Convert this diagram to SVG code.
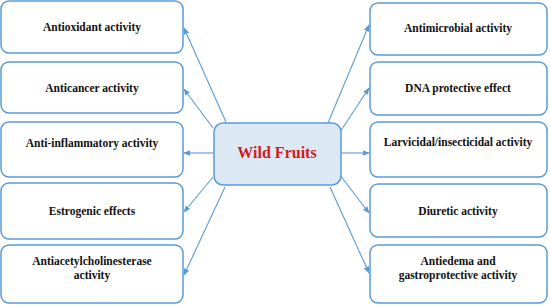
<svg xmlns="http://www.w3.org/2000/svg" width="550" height="305" viewBox="0 0 550 305">
<style>
.box{fill:#ffffff;stroke:#5b9bd5;stroke-width:1.5}
.center{fill:#dde8f5;stroke:#5b9bd5;stroke-width:1.5}
.lbl{font-family:"Liberation Serif",serif;font-weight:bold;font-size:11.5px;fill:#111;text-anchor:middle}
.title{font-family:"Liberation Serif",serif;font-weight:bold;font-size:16px;fill:#d01c1c;text-anchor:middle}
.conn line{stroke:#5b9bd5;stroke-width:1.1;marker-end:url(#ah)}
</style>
<defs>
<marker id="ah" viewBox="0 0 10 10" refX="9" refY="5" markerWidth="7" markerHeight="7" markerUnits="userSpaceOnUse" orient="auto">
<path d="M0,1 L10,5 L0,9 z" fill="#5b9bd5"/>
</marker>
</defs>
<g id="connectors" class="conn">
<line x1="226" y1="122" x2="184" y2="28"/>
<line x1="213" y1="128" x2="184" y2="89"/>
<line x1="214" y1="153" x2="184" y2="153"/>
<line x1="213" y1="177" x2="184" y2="212"/>
<line x1="225" y1="187" x2="184" y2="275"/>
<line x1="328" y1="123" x2="369" y2="25"/>
<line x1="340" y1="132" x2="369" y2="88"/>
<line x1="341" y1="153" x2="369" y2="153"/>
<line x1="340" y1="175" x2="369" y2="213"/>
<line x1="330" y1="187" x2="369" y2="273"/>
</g>
<g id="center"><rect class="center" x="214" y="123" width="127" height="62" rx="9"/><text class="title" x="277" y="158">Wild Fruits</text></g>
<g id="l1"><rect class="box" x="1" y="1" width="182" height="52" rx="8"/><text class="lbl" x="92" y="31">Antioxidant activity</text></g>
<g id="l2"><rect class="box" x="1" y="62" width="182" height="51" rx="8"/><text class="lbl" x="92" y="92">Anticancer activity</text></g>
<g id="l3"><rect class="box" x="1" y="122" width="182" height="55" rx="8"/><text class="lbl" x="92" y="147">Anti-inflammatory activity</text></g>
<g id="l4"><rect class="box" x="1" y="183" width="182" height="56" rx="8"/><text class="lbl" x="92" y="215">Estrogenic effects</text></g>
<g id="l5"><rect class="box" x="1" y="245" width="182" height="58" rx="8"/><text class="lbl" x="92" y="265">Antiacetylcholinesterase</text><text class="lbl" x="92" y="279">activity</text></g>
<g id="r1"><rect class="box" x="370" y="3" width="177" height="52" rx="8"/><text class="lbl" x="458" y="32">Antimicrobial activity</text></g>
<g id="r2"><rect class="box" x="370" y="62" width="177" height="53" rx="8"/><text class="lbl" x="458" y="92">DNA protective effect</text></g>
<g id="r3"><rect class="box" x="370" y="122" width="177" height="55" rx="8"/><text class="lbl" x="458" y="146">Larvicidal/insecticidal activity</text></g>
<g id="r4"><rect class="box" x="370" y="184" width="177" height="53" rx="8"/><text class="lbl" x="458" y="215">Diuretic activity</text></g>
<g id="r5"><rect class="box" x="370" y="245" width="177" height="58" rx="8"/><text class="lbl" x="458" y="265">Antiedema and</text><text class="lbl" x="458" y="279">gastroprotective activity</text></g>
</svg>
